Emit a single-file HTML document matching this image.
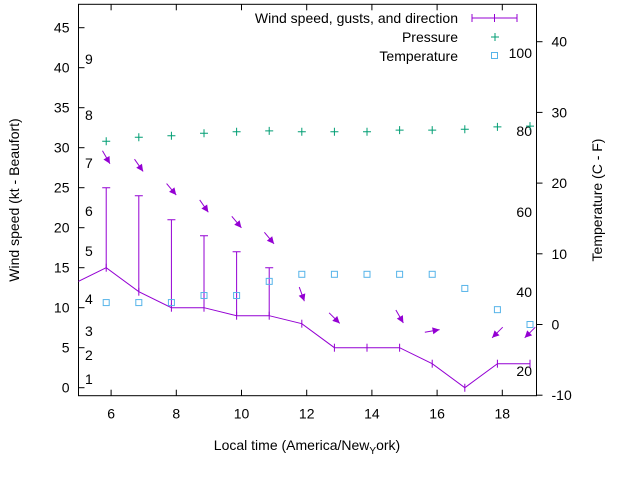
<!DOCTYPE html>
<html><head><meta charset="utf-8"><style>
body{margin:0;background:#fff}
svg{display:block;font-family:"Liberation Sans",sans-serif}
</style></head><body>
<svg id="chart" width="640" height="480" viewBox="0 0 640 480" xmlns="http://www.w3.org/2000/svg">
<defs><clipPath id="clip"><rect x="78.5" y="4.3" width="458" height="391.4"/></clipPath></defs>
<g id="grid"></g>
<g id="marks" clip-path="url(#clip)"></g>
<g id="legend">
 <text x="458" y="23" text-anchor="end" font-size="14">Wind speed, gusts, and direction</text>
 <line x1="472" y1="18" x2="517" y2="18" stroke="#9400d3"/>
 <line x1="472" y1="14" x2="472" y2="22" stroke="#9400d3"/><line x1="517" y1="14" x2="517" y2="22" stroke="#9400d3"/><line x1="494.5" y1="14" x2="494.5" y2="22" stroke="#9400d3"/>
 <text x="458" y="42" text-anchor="end" font-size="14">Pressure</text>
 <path d="M491 37h8M495 33v8" stroke="#009e73"/>
 <text x="458" y="61" text-anchor="end" font-size="14">Temperature</text>
 <rect x="491.5" y="52.5" width="6" height="6" fill="none" stroke="#56b4e9"/>
</g>
<text transform="translate(19,200) rotate(-90)" text-anchor="middle" font-size="14">Wind speed (kt - Beaufort)</text>
<text transform="translate(602,200) rotate(-90)" text-anchor="middle" font-size="14">Temperature (C - F)</text>
<text x="307" y="450" text-anchor="middle" font-size="14">Local time (America/New<tspan font-size="10" dy="4">Y</tspan><tspan dy="-4">ork)</tspan></text>
</svg>
<script>
const hours=[4.85,5.85,6.85,7.85,8.85,9.85,10.85,11.85,12.85,13.85,14.85,15.85,16.85,17.85,18.85];
const wind=[13,15,12,10,10,9,9,8,5,5,5,3,0,3,3];
const gustHours=[5.85,6.85,7.85,8.85,9.85,10.85];
const gustBase=[15,12,10,10,9,9];
const gusts=[25,24,21,19,17,15];
const pressHours=[5.85,6.85,7.85,8.85,9.85,10.85,11.85,12.85,13.85,14.85,15.85,16.85,17.85,18.85];
const pressure=[30.8,31.3,31.5,31.8,32.0,32.1,32.0,32.0,32.0,32.2,32.2,32.3,32.6,32.7];
const tempC=[3.1,3.1,3.1,4.1,4.1,6.1,7.1,7.1,7.1,7.1,7.1,5.1,2.1,0];
const arrowHours=[5.85,6.85,7.85,8.85,9.85,10.85,11.85,12.85,14.85,15.85,17.85,18.85];
const arrowY=[28.8,27.8,24.8,22.7,20.7,18.7,11.7,8.7,8.9,7.1,6.9,6.9];
const arrowDir=[330,325,320,325,320,320,340,315,330,260,45,45];
const xTicks=[6,8,10,12,14,16,18];
const yTicks=[0,5,10,15,20,25,30,35,40,45];
const y2Ticks=[-10,0,10,20,30,40];
const beaufort=[["1",379],["2",355],["3",331],["4",299],["5",251],["6",211],["7",163],["8",115],["9",59]];
const fahr=[["100",53],["80",131],["60",212],["40",292],["20",371]];

const NS="http://www.w3.org/2000/svg";
const X=h=>78.5+(h-5)*32.6;
const Y=v=>387.7-v*8;
const Y2=c=>324.5-c*7.07;
const L=78.5,R=536.5,T=4.3,B=395.7;
function mk(tag,attrs,parent){const e=document.createElementNS(NS,tag);for(const k in attrs)e.setAttribute(k,attrs[k]);parent.appendChild(e);return e;}
const g=document.getElementById('grid'),m=document.getElementById('marks');
const frame=mk('rect',{x:L,y:T,width:R-L,height:B-T,fill:'none',stroke:'#000'},g);


xTicks.forEach(t=>{
 mk('line',{x1:X(t),x2:X(t),y1:B,y2:B-6,stroke:'#000'},g);
 mk('line',{x1:X(t),x2:X(t),y1:T,y2:T+6,stroke:'#000'},g);
 const tx=mk('text',{x:X(t),y:B+23,'text-anchor':'middle','font-size':14},g);tx.textContent=t;
 
 
});
yTicks.forEach(t=>{
 mk('line',{x1:L,x2:L+6,y1:Y(t),y2:Y(t),stroke:'#000'},g);
 const tx=mk('text',{x:L-9,y:Y(t)+5,'text-anchor':'end','font-size':14},g);tx.textContent=t;
 
 
});
y2Ticks.forEach(t=>{
 mk('line',{x1:R,x2:R+6,y1:Y2(t),y2:Y2(t),stroke:'#000'},g);
 const tx=mk('text',{x:R+15,y:Y2(t)+5,'font-size':14},g);tx.textContent=t;
 
 
});
beaufort.forEach(([s,y])=>{const tx=mk('text',{x:85,y:y+5,'font-size':14},g);tx.textContent=s;
 
 });
fahr.forEach(([s,y])=>{const tx=mk('text',{x:532,y:y+5,'text-anchor':'end','font-size':14},g);tx.textContent=s;
 
 });
const P='#9400d3';
const line=mk('polyline',{points:hours.map((h,i)=>X(h)+','+Y(wind[i])).join(' '),fill:'none',stroke:P},m);


hours.forEach((h,i)=>{const t=mk('path',{d:`M${X(h)} ${Y(wind[i])-4}v8`,stroke:P},m);
 
 });
gustHours.forEach((h,i)=>{
 const x=X(h);
 const e=mk('path',{d:`M${x} ${Y(gustBase[i])}V${Y(gusts[i])}M${x-4} ${Y(gusts[i])}h8`,stroke:P,fill:'none'},m);
 
 
});
pressHours.forEach((h,i)=>{
 const x=X(h),y=Y(pressure[i]);
 const e=mk('path',{d:`M${x-4} ${y}h8M${x} ${y-4}v8`,stroke:'#009e73'},m);
 
 
});
pressHours.forEach((h,i)=>{
 const e=mk('rect',{x:X(h)-3,y:Y2(tempC[i])-3,width:6,height:6,fill:'none',stroke:'#56b4e9'},m);
 
 
});
arrowHours.forEach((h,i)=>{
 const cx=X(h),cy=Y(arrowY[i]);
 const a=(arrowDir[i]+180)*Math.PI/180;
 const dx=Math.sin(a),dy=-Math.cos(a),len=15;
 const x1=cx-dx*len/2,y1=cy-dy*len/2,x2=cx+dx*len/2,y2=cy+dy*len/2;
 const px=-dy,py=dx;
 const e=mk('g',{},m);
 
 
 mk('line',{x1,y1,x2,y2,stroke:P},e);
 mk('polygon',{points:`${x2},${y2} ${x2-dx*7+px*3.5},${y2-dy*7+py*3.5} ${x2-dx*7-px*3.5},${y2-dy*7-py*3.5}`,fill:P},e);
});
</script>
</body></html>
